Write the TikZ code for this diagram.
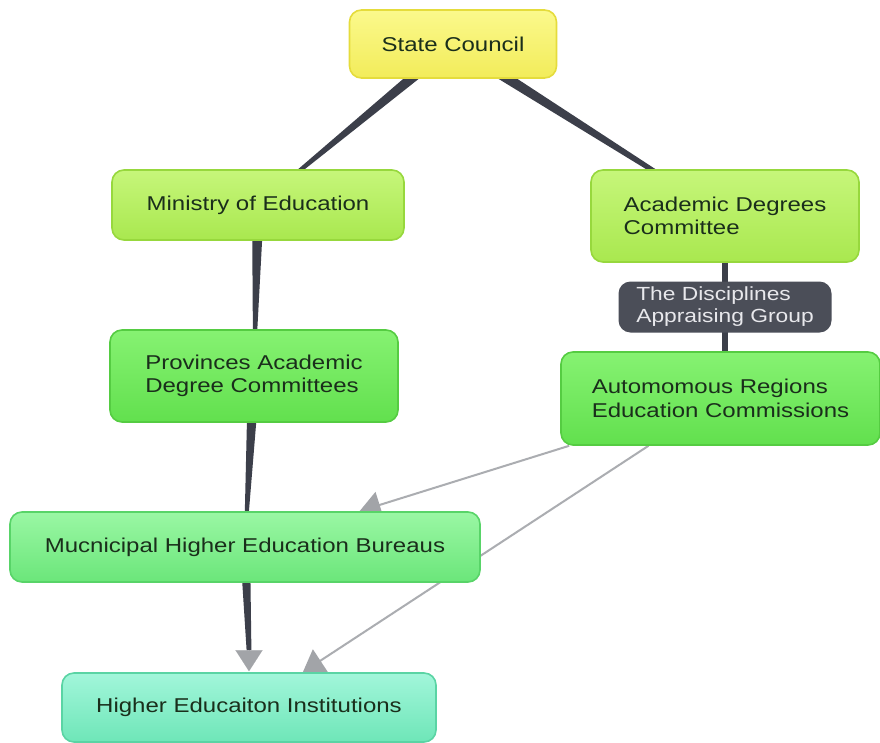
\documentclass[tikz,border=0pt]{standalone}
\usepackage{fontspec}
\setmainfont[FakeStretch=1.2]{Liberation Sans}
\usetikzlibrary{calc,arrows.meta,backgrounds}

\definecolor{txt}{HTML}{1A2E1B}
\definecolor{edgedark}{HTML}{3C3F4A}
\definecolor{edgegray}{HTML}{ABADB1}
\definecolor{tipgray}{HTML}{A2A4A8}
\definecolor{yelTop}{HTML}{FBF98C}
\definecolor{yelBot}{HTML}{F2EC5A}
\definecolor{yelLine}{HTML}{E5DC3C}
\definecolor{limeTop}{HTML}{C6F67A}
\definecolor{limeBot}{HTML}{A9E84F}
\definecolor{limeLine}{HTML}{97D83D}
\definecolor{grnTop}{HTML}{86F272}
\definecolor{grnBot}{HTML}{62E04E}
\definecolor{grnLine}{HTML}{55CC42}
\definecolor{mintTop}{HTML}{9AF7A4}
\definecolor{mintBot}{HTML}{6BE67A}
\definecolor{mintLine}{HTML}{58D468}
\definecolor{aquaTop}{HTML}{A2F6DA}
\definecolor{aquaBot}{HTML}{6EE6B8}
\definecolor{aquaLine}{HTML}{5AD4A4}
\definecolor{tagFill}{HTML}{4B4E58}
\definecolor{tagText}{HTML}{E8E8EC}

\tikzset{
  box/.style={rounded corners=12pt, line width=1.6pt, text=txt,
    font=\fontsize{20}{23.5}\selectfont, align=left, inner sep=0pt},
  yellowbox/.style={box, top color=yelTop, bottom color=yelBot, draw=yelLine},
  limebox/.style={box, top color=limeTop, bottom color=limeBot, draw=limeLine},
  greenbox/.style={box, top color=grnTop, bottom color=grnBot, draw=grnLine},
  mintbox/.style={box, top color=mintTop, bottom color=mintBot, draw=mintLine},
  aquabox/.style={box, top color=aquaTop, bottom color=aquaBot, draw=aquaLine},
  tagbox/.style={rounded corners=12pt, fill=tagFill, text=tagText,
    font=\fontsize{19}{22}\selectfont, align=left, inner sep=0pt},
  bigtip/.style={-{Triangle[length=21pt,width=27pt,color=tipgray]}},
  grayarrow/.style={draw=edgegray, line width=2pt, bigtip},
}

% tapered connector from #1 to #2, half widths #3 and #4
\newcommand\taperedge[4]{%
  \fill[edgedark] ($(#1)!#3!90:(#2)$) -- ($(#2)!#4!-90:(#1)$)
    -- ($(#2)!#4!90:(#1)$) -- ($(#1)!#3!-90:(#2)$) -- cycle;}

\begin{document}
\begin{tikzpicture}[x=1pt,y=-1pt]
\useasboundingbox (0,0) rectangle (880,742);

% boxes
\node[yellowbox, minimum width=207pt, minimum height=68pt] (sc) at (453,44) {State Council};
\node[limebox, minimum width=292pt, minimum height=70pt] (moe) at (258,205) {Ministry of Education};
\node[limebox, minimum width=268pt, minimum height=92pt] (adc) at (725,216) {Academic Degrees\\Committee};
\node[greenbox, minimum width=288pt, minimum height=92pt] (pad) at (254,376) {Provinces Academic\\Degree Committees};
\node[greenbox, minimum width=319pt, minimum height=93pt] (arc) at (720.5,398.5) {Automomous Regions\\Education Commissions};
\node[mintbox, minimum width=470pt, minimum height=70pt] (mhe) at (245,547) {Mucnicipal Higher Education Bureaus};
\node[aquabox, minimum width=374pt, minimum height=69pt] (hei) at (249,707.5) {Higher Educaiton Institutions};

\coordinate (adcfoot) at (adc.south);
\coordinate (arctop) at (arc.north -| adc.south);
\coordinate (heitop) at ($(hei.north)+(0,-1)$);
\coordinate (heiabove) at ($(hei.north)+(0,-22)$);

% white page and connectors, kept behind the boxes
\begin{scope}[on background layer]
  \fill[white] (0,0) rectangle (880,742);
  \taperedge{sc}{moe}{6pt}{1pt}
  \taperedge{sc}{adc}{6pt}{1.2pt}
  \taperedge{moe}{pad}{6pt}{0.8pt}
  \taperedge{pad}{mhe}{6pt}{1pt}
  \taperedge{mhe}{heiabove}{5pt}{2.4pt}
  \draw[edgedark, line width=6pt] (adcfoot) -- (arctop);
  \draw[grayarrow] (arc) -- (mhe);
  \draw[grayarrow] (arc) -- (hei);
\end{scope}

% arrow tip on the dark connector into the institutions box
\draw[tipgray, line width=0.1pt, bigtip] (heiabove) -- (heitop);

% label box sitting on the committee connector
\node[tagbox, minimum width=213pt, minimum height=51pt] (dag) at ($(adcfoot)!0.5!(arctop)$) {The Disciplines\\Appraising Group};
\end{tikzpicture}
\end{document}
